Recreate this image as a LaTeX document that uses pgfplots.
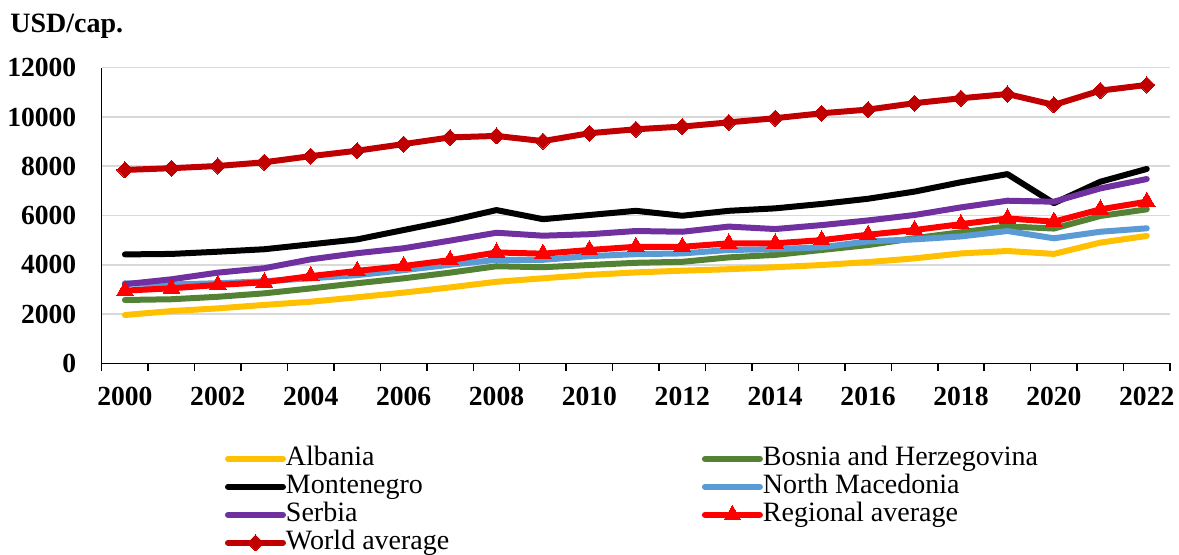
\documentclass[border=0pt]{standalone}
\usepackage{fontspec}
\setmainfont{Liberation Serif}
\usepackage{pgfplots}
\pgfplotsset{compat=1.18}
\definecolor{cAlb}{HTML}{FFC000}
\definecolor{cBos}{HTML}{548235}
\definecolor{cMne}{HTML}{000000}
\definecolor{cMkd}{HTML}{5B9BD5}
\definecolor{cSrb}{HTML}{7030A0}
\definecolor{cReg}{HTML}{FF0000}
\definecolor{cWld}{HTML}{C00000}
\definecolor{cGrid}{HTML}{D9D9D9}
\begin{document}
\begin{tikzpicture}
\begin{axis}[
  at={(50.85pt,-181.65pt)}, anchor=south west,
  scale only axis, width=534.15pt, height=147.8pt,
  xmin=-0.5, xmax=22.5, ymin=0, ymax=12000,
  axis x line=bottom, axis y line=left,
  axis line style={-, line width=0.75pt, black},
  xtick={0,2,...,22},
  xticklabels={2000,2002,2004,2006,2008,2010,2012,2014,2016,2018,2020,2022},
  minor xtick={-0.5,0.5,...,22.5},
  ytick={0,2000,...,12000},
  major tick length=0pt, minor tick length=4pt, tick align=outside,
  minor tick style={line width=0.75pt, black},
  ymajorgrids, grid style={cGrid, line width=0.75pt},
  /pgf/number format/assume math mode=true,
  scaled y ticks=false,
  yticklabel={\pgfmathprintnumber[fixed,1000 sep={}]{\tick}},
  tick label style={font=\bfseries\fontsize{13.8}{14}\selectfont},
  yticklabel style={inner sep=0pt, anchor=east, xshift=-12.5pt},
  xticklabel style={inner sep=0pt, anchor=north, yshift=-11.7pt},
  every axis plot/.append style={line width=3pt, line join=round, line cap=round},
  legend columns=2,
  legend cell align=left,
  legend style={draw=none, fill=none, at={(0.1154,-0.276)}, anchor=north west,
    inner sep=0pt, outer sep=0pt, row sep=0pt,
    font=\fontsize{14}{14}\selectfont,
    nodes={inner sep=0pt, text height=10.5pt, text depth=3.5pt},
    /tikz/column 1/.style={column sep=0pt},
    /tikz/column 2/.style={column sep=126.3pt},
    /tikz/column 3/.style={column sep=0pt}},
  legend image code/.code={\draw[mark repeat=2,mark phase=2,#1] plot coordinates {(0pt,0pt) (13.75pt,0pt) (27.5pt,0pt)};},
  clip=false,
]
\addplot[cAlb, no marks] coordinates {(0,1960)(1,2120)(2,2230)(3,2370)(4,2500)(5,2680)(6,2870)(7,3080)(8,3310)(9,3450)(10,3590)(11,3690)(12,3760)(13,3820)(14,3900)(15,3990)(16,4110)(17,4260)(18,4460)(19,4560)(20,4440)(21,4900)(22,5170)};
\addlegendentry{Albania}
\addplot[cBos, no marks] coordinates {(0,2570)(1,2600)(2,2700)(3,2840)(4,3040)(5,3250)(6,3450)(7,3680)(8,3940)(9,3900)(10,3990)(11,4080)(12,4120)(13,4300)(14,4400)(15,4600)(16,4800)(17,5080)(18,5320)(19,5560)(20,5470)(21,5980)(22,6250)};
\addlegendentry{Bosnia and Herzegovina}
\addplot[cMne, no marks] coordinates {(0,4420)(1,4440)(2,4530)(3,4630)(4,4830)(5,5030)(6,5410)(7,5790)(8,6220)(9,5850)(10,6020)(11,6190)(12,5990)(13,6190)(14,6290)(15,6470)(16,6680)(17,6970)(18,7350)(19,7680)(20,6500)(21,7370)(22,7890)};
\addlegendentry{Montenegro}
\addplot[cMkd, no marks] coordinates {(0,3250)(1,3200)(2,3250)(3,3330)(4,3450)(5,3580)(6,3780)(7,4000)(8,4200)(9,4200)(10,4350)(11,4430)(12,4460)(13,4600)(14,4630)(15,4710)(16,4950)(17,5030)(18,5150)(19,5370)(20,5075)(21,5340)(22,5480)};
\addlegendentry{North Macedonia}
\addplot[cSrb, no marks] coordinates {(0,3210)(1,3410)(2,3680)(3,3860)(4,4220)(5,4470)(6,4670)(7,4980)(8,5300)(9,5180)(10,5240)(11,5370)(12,5340)(13,5550)(14,5450)(15,5610)(16,5800)(17,6020)(18,6330)(19,6600)(20,6560)(21,7100)(22,7480)};
\addlegendentry{Serbia}
\addplot[cReg, mark=triangle*, mark size=4.8pt, mark options={solid, line width=0pt, fill=cReg, draw=cReg}] coordinates {(0,2950)(1,3045)(2,3180)(3,3290)(4,3540)(5,3750)(6,3950)(7,4190)(8,4500)(9,4450)(10,4600)(11,4730)(12,4730)(13,4870)(14,4870)(15,5000)(16,5220)(17,5410)(18,5650)(19,5880)(20,5750)(21,6250)(22,6560)};
\addlegendentry{Regional average}
\addplot[cWld, mark=square*, mark size=2.85pt, mark options={solid, rotate=45, line width=0pt, fill=cWld, draw=cWld}] coordinates {(0,7850)(1,7920)(2,8010)(3,8160)(4,8410)(5,8630)(6,8900)(7,9170)(8,9230)(9,9020)(10,9340)(11,9500)(12,9610)(13,9780)(14,9950)(15,10150)(16,10300)(17,10560)(18,10760)(19,10930)(20,10490)(21,11070)(22,11300)};
\addlegendentry{World average}
\node[anchor=base west, inner sep=0pt, font=\bfseries\fontsize{14}{14}\selectfont] at (rel axis cs:-0.0858,1.1174) {USD/cap.};
\end{axis}
\pgfresetboundingbox
\path[use as bounding box] (0pt,0pt) rectangle (589.5pt,-277.5pt);
\end{tikzpicture}
\end{document}
